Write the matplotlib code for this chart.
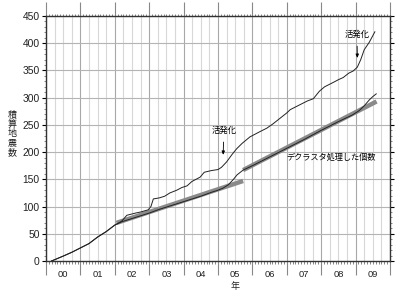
import matplotlib
matplotlib.use("Agg")
import matplotlib.pyplot as plt
import numpy as np
from matplotlib.ticker import MultipleLocator

plt.rcParams['font.family'] = ['Liberation Sans', 'Noto Sans CJK JP', 'DejaVu Sans']

# Cumulative number of earthquakes (all events)
main_t = [2000.16, 2000.5, 2000.75, 2001.0, 2001.25, 2001.5, 2001.75, 2002.0, 2002.2,
          2002.35, 2002.6, 2002.75, 2002.97, 2003.05, 2003.12, 2003.3, 2003.45, 2003.6,
          2003.8, 2003.95, 2004.1, 2004.24, 2004.48, 2004.6, 2004.8, 2005.0, 2005.1,
          2005.25, 2005.4, 2005.54, 2005.7, 2005.93, 2006.2, 2006.42, 2006.6, 2006.8,
          2007.0, 2007.1, 2007.38, 2007.6, 2007.77, 2007.95, 2008.1, 2008.35, 2008.5,
          2008.64, 2008.8, 2008.93, 2009.05, 2009.15, 2009.25, 2009.4, 2009.56]
main_v = [0, 9, 16, 24, 32, 44, 54, 66, 73,
          84, 88, 90, 94, 100, 114, 116, 119, 125,
          130, 135, 138, 146, 154, 163, 166, 168, 172,
          182, 195, 206, 216, 228, 237, 244, 252, 262,
          272, 278, 287, 294, 298, 312, 320, 328, 333,
          337, 345, 349, 356, 370, 388, 402, 421]

# Declustered cumulative count
decl_t = [2000.16, 2000.5, 2000.75, 2001.0, 2001.25, 2001.5, 2001.75, 2002.0, 2002.2,
          2002.5, 2002.8, 2003.0, 2003.3, 2003.6, 2003.9, 2004.2, 2004.5, 2004.8,
          2005.0, 2005.15, 2005.3, 2005.45, 2005.55, 2005.73, 2006.0, 2006.5, 2007.0,
          2007.5, 2008.0, 2008.5, 2008.9, 2009.1, 2009.25, 2009.4, 2009.5, 2009.6]
decl_v = [0, 9, 16, 24, 32, 44, 54, 66, 72,
          78, 84, 88, 95, 101, 107, 113, 119, 126,
          130, 134, 140, 150, 158, 167, 175, 191, 207,
          223, 240, 256, 268, 276, 285, 296, 302, 307]

# Linear trend fits
fit1_t = [2002.05, 2005.73]
fit1_v = [70, 147]
fit2_t = [2005.73, 2009.61]
fit2_v = [167, 293]

year_labels = ['00', '01', '02', '03', '04', '05', '06', '07', '08', '09']
ylabel_chars = ['積', '算', '地', '震', '数']

fig = plt.figure(figsize=(4, 3), dpi=100)
ax = fig.add_axes([46/400, 39/300, 344/400, 245/300])
ax.set_xlim(2000, 2010)
ax.set_ylim(0, 450)

# grid
for q in np.arange(2000, 2010.01, 0.25):
    if abs(q - round(q)) < 1e-6:
        ax.axvline(q, color='#a8a8a8', lw=0.8, zorder=0)
    else:
        ax.axvline(q, color='#d8d8d8', lw=0.8, zorder=0)
for yv in range(50, 451, 50):
    ax.axhline(yv, color='#b4b4b4', lw=0.8, zorder=0)

ax.plot(fit1_t, fit1_v, color='#8a8a8a', lw=3.2, solid_capstyle='butt', zorder=2)
ax.plot(fit2_t, fit2_v, color='#8a8a8a', lw=3.2, solid_capstyle='butt', zorder=2)
ax.plot(decl_t, decl_v, color='#222222', lw=0.7, zorder=3)
ax.plot(main_t, main_v, color='#222222', lw=0.7, zorder=3)

# ticks
ax.xaxis.set_major_locator(MultipleLocator(1))
ax.xaxis.set_minor_locator(MultipleLocator(1/12))
ax.yaxis.set_major_locator(MultipleLocator(50))
ax.yaxis.set_minor_locator(MultipleLocator(10))
ax.tick_params(axis='x', which='major', direction='out', length=10, width=0.8,
               top=True, bottom=True, labelbottom=False, color='#888888')
ax.tick_params(axis='x', which='minor', direction='out', length=1.8, width=0.5,
               top=True, bottom=True, color='#555555')
ax.tick_params(axis='y', which='major', direction='out', length=3, width=0.8,
               left=True, right=True, labelsize=7.4, pad=1.5, labelcolor='#222222')
ax.tick_params(axis='y', which='minor', direction='out', length=1.5, width=0.5,
               left=True, right=True, color='#555555')
for s in ax.spines.values():
    s.set_linewidth(1.0)
    s.set_color('#333333')

trans = matplotlib.transforms.blended_transform_factory(ax.transData, ax.transAxes)
for i, lab in enumerate(year_labels):
    ax.text(2000.5 + i, -0.057, lab, transform=trans, ha='center', va='center',
            fontsize=6.7, color='#222222')

ax.text(0.549, -0.106, '年', transform=ax.transAxes, ha='center', va='center',
        fontsize=6.5, color='#222222')
for i, ch in enumerate(ylabel_chars):
    fig.text(12/400, (300 - (115 + 9.3 * i))/300, ch, ha='center', va='center',
             fontsize=6.5, color='#222222')

ax.annotate('活発化', xy=(2005.15, 195), xytext=(2005.17, 239),
            ha='center', va='center', fontsize=6.0,
            arrowprops=dict(arrowstyle='-|>,head_width=0.15,head_length=0.35',
                            color='black', lw=0.6, shrinkA=3, shrinkB=0))
ax.annotate('活発化', xy=(2009.05, 373), xytext=(2009.04, 415),
            ha='center', va='center', fontsize=6.0,
            arrowprops=dict(arrowstyle='-|>,head_width=0.15,head_length=0.35',
                            color='black', lw=0.6, shrinkA=3, shrinkB=0))
ax.text(2007.0, 191, 'デクラスタ処理した個数', ha='left', va='center', fontsize=5.9)

fig.savefig('out.png', dpi=100)
